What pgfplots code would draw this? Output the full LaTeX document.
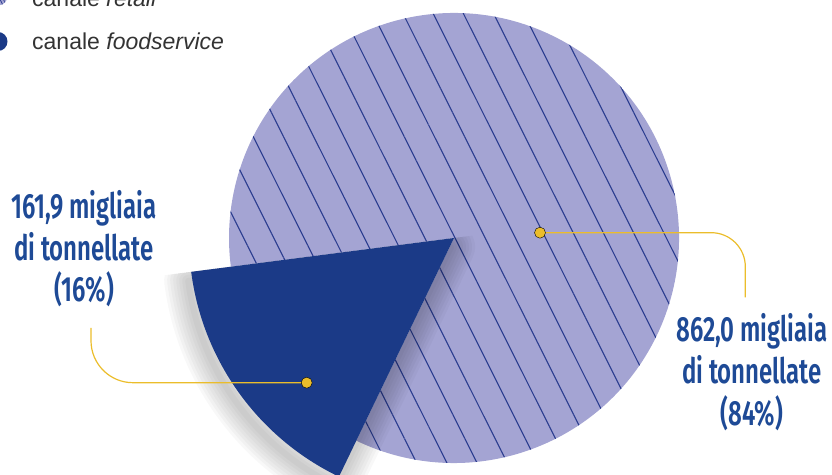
\documentclass[border=0pt]{standalone}
\usepackage{fontspec}
\setmainfont{Liberation Sans}
\newfontfamily\labfont{Fira Sans SemiBold}[FakeStretch=0.685]
\usepackage{pgfplots}
\pgfplotsset{compat=1.18}
\usetikzlibrary{patterns.meta}
\definecolor{lightpie}{HTML}{A4A4D3}
\definecolor{darkc}{HTML}{1B3A87}
\definecolor{hatchc}{HTML}{2B3D8F}
\definecolor{labc}{HTML}{1E4A96}
\definecolor{yellowc}{HTML}{EBBD2B}
\definecolor{legc}{HTML}{333333}
% data (migliaia di tonnellate)
\def\valRetail{862.0}
\def\valFood{161.9}
\pgfmathsetmacro\share{\valFood/(\valRetail+\valFood)}
\pgfmathsetmacro\angFood{360*\share}
\def\midFood{215.8}
\pgfmathsetmacro\aS{\midFood-\angFood/2}
\pgfmathsetmacro\aE{\midFood+\angFood/2}
\pgfmathsetmacro\aEnd{\aS+360}
\begin{document}
\begin{tikzpicture}
\useasboundingbox (0,0) rectangle (832bp,475bp);
\begin{axis}[at={(0,0)}, anchor=south west, scale only axis,
  width=832bp, height=475bp, xmin=0, xmax=832, ymin=0, ymax=475,
  hide axis, clip=true]
\path (axis cs:454,237) coordinate (O);
% retail slice
\fill[lightpie] (O) -- +(\aE:225bp) arc[start angle=\aE, end angle=\aEnd, radius=225bp] -- cycle;
\fill[pattern={Lines[angle=-63.4, distance=27bp, line width=1.1bp]}, pattern color=hatchc]
  (O) -- +(\aE:225bp) arc[start angle=\aE, end angle=\aEnd, radius=225bp] -- cycle;
% shadow of foodservice slice
\begin{scope}
\clip ([shift={(\aS:900bp)}]O) -- ([shift={(\aS+90:900bp)}]O) -- ([shift={(\aS+180:900bp)}]O) -- cycle;
\pgfplotsinvokeforeach{6,12,18,24,30,36,42,48}{
  \draw[black, opacity=0.028, line width=#1bp, line join=round]
   ([shift={(-3bp,-9bp)}]O) -- +(\aS:265bp) arc[start angle=\aS, end angle=\aE, radius=265bp] -- cycle;
}
\end{scope}
% foodservice slice
\fill[darkc] (O) -- +(\aS:265bp) arc[start angle=\aS, end angle=\aE, radius=265bp] -- cycle;
% leader lines
\addplot[yellowc, line width=1.2bp, rounded corners=42bp] coordinates {(91,147) (91,92.3) (306.7,92.3)};
\addplot[yellowc, line width=1.2bp, rounded corners=34bp] coordinates {(540,242.3) (745.3,242.3) (745.3,177.7)};
\addplot[only marks, mark=*, mark size=5.5bp, mark options={fill=yellowc, draw=none}] coordinates {(306.7,92.3) (540,242.3)};
% labels
\node[anchor=base, text=labc, font=\labfont\fontsize{35bp}{35bp}\selectfont] at (axis cs:84,256.5) {161,9 migliaia};
\node[anchor=base, text=labc, font=\labfont\fontsize{35bp}{35bp}\selectfont] at (axis cs:84,214.5) {di tonnellate};
\node[anchor=base, text=labc, font=\labfont\fontsize{35bp}{35bp}\selectfont] at (axis cs:84,173.5) {(16\%)};
\node[anchor=base, text=labc, font=\labfont\fontsize{35bp}{35bp}\selectfont] at (axis cs:752,133.3) {862,0 migliaia};
\node[anchor=base, text=labc, font=\labfont\fontsize{35bp}{35bp}\selectfont] at (axis cs:752,91.7) {di tonnellate};
\node[anchor=base, text=labc, font=\labfont\fontsize{35bp}{35bp}\selectfont] at (axis cs:752,49) {(84\%)};
% legend
\fill[lightpie] (axis cs:-2,479) circle[radius=9.5bp];
\fill[pattern={Lines[angle=-63.4, distance=3bp, line width=0.8bp]}, pattern color=hatchc] (axis cs:-2,479) circle[radius=9.5bp];
\fill[darkc] (axis cs:-2,433.5) circle[radius=9.5bp];
\begin{scope}
\clip (axis cs:0,0) rectangle (axis cs:832,475);
\node[anchor=base west, inner sep=0pt, text=legc, font=\fontsize{23bp}{23bp}\selectfont] at (axis cs:32,468.3) {canale \textit{retail}};
\end{scope}
\node[anchor=base west, inner sep=0pt, text=legc, font=\fontsize{23bp}{23bp}\selectfont] at (axis cs:32,425) {canale \textit{foodservice}};
\end{axis}
\end{tikzpicture}
\end{document}
